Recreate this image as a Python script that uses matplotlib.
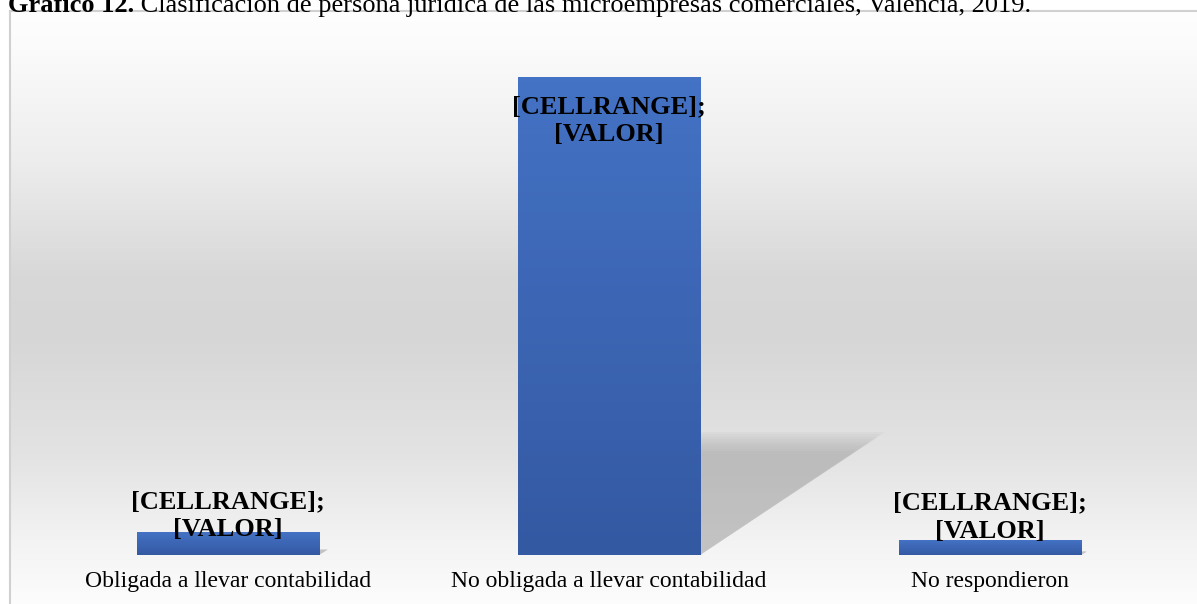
import numpy as np
import matplotlib
matplotlib.use("Agg")
import matplotlib.pyplot as plt
from matplotlib.patches import Polygon
from matplotlib.colors import LinearSegmentedColormap

# ---- data ----
categories = ["Obligada a llevar contabilidad",
              "No obligada a llevar contabilidad",
              "No respondieron"]
values = [4.4, 92.7, 2.9]
data_labels = ["[CELLRANGE];\n[VALOR]"] * 3
title_bold = "Gráfico 12."
title_rest = " Clasificación de persona jurídica de las microempresas comerciales, Valencia, 2019."

W, H, DPI = 1197, 604, 100
fig = plt.figure(figsize=(W / DPI, H / DPI), dpi=DPI)
fig.patch.set_facecolor("white")

serif = ["Liberation Serif", "DejaVu Serif"]

# ---- background gradient (chart area) ----
bg = fig.add_axes([0, 0, 1, 1], zorder=0)
bg.set_xlim(0, W); bg.set_ylim(H, 0); bg.axis("off")
ys = np.linspace(0, 1, 300)
prof_y = [0.0, 0.06, 0.25, 0.45, 0.55, 0.75, 0.9, 1.0]
prof_c = [0.995, 0.985, 0.93, 0.845, 0.84, 0.89, 0.955, 0.99]
grad = np.interp(ys, prof_y, prof_c)
img = np.repeat(grad[:, None], 2, axis=1)
img = np.dstack([img, img, img])
bg.imshow(img, extent=[10, W, H, 11], aspect="auto", interpolation="bilinear", zorder=0)
bg.plot([9.5, 9.5], [10.5, H], color="#d0d0d0", lw=1.5, zorder=1)
bg.plot([9.5, W], [10.5, 10.5], color="#d0d0d0", lw=1.5, zorder=1)

# ---- title (partly cut at top, as in the source) ----
t1 = bg.text(8, 12, title_bold, fontsize=19, fontweight="bold", family=serif,
             va="baseline", ha="left", color="black", zorder=3)
fig.canvas.draw()
r = fig.canvas.get_renderer()
bb = t1.get_window_extent(r)
bg.text(bb.x1, 12, title_rest, fontsize=19, family=serif,
        va="baseline", ha="left", color="black", zorder=3)

# ---- main axes ----
ax_left, ax_right = 37.5, 1180.5
ax_bottom_px, ax_top_px = 555, 60
ax = fig.add_axes([ax_left / W, 1 - ax_bottom_px / H,
                   (ax_right - ax_left) / W, (ax_bottom_px - ax_top_px) / H], zorder=2)
ax.patch.set_alpha(0)
ymax = 96.0
ax.set_xlim(-0.5, 2.5)
ax.set_ylim(0, ymax)
for s in ax.spines.values():
    s.set_visible(False)
ax.tick_params(left=False, labelleft=False, bottom=False, labelbottom=False)

x = np.arange(len(categories))
bw = 0.48
bars = ax.bar(x, values, width=bw, color="#3c66b6", zorder=3)

# gradient fill for bars
bar_cmap = LinearSegmentedColormap.from_list("barg", ["#3459a3", "#4472c4"])
for b in bars:
    x0, y0, w, h = b.get_x(), b.get_y(), b.get_width(), b.get_height()
    gimg = ax.imshow(np.linspace(0, 1, 100)[:, None], cmap=bar_cmap, origin="lower",
                     extent=[x0, x0 + w, y0, y0 + h], aspect="auto", zorder=3.5)
    gimg.set_clip_path(b)

# perspective shadows (soft, layered triangles)
for b in bars:
    x0, w, h = b.get_x(), b.get_width(), b.get_height()
    xr = x0 + w
    sh_h = h * 0.235
    sh_w = (w * 0.92) * (h / max(values))
    n = 10
    for i in range(n):
        k = 0.9 + i * 0.022
        poly = Polygon([(xr, 0), (xr, sh_h * k), (xr + sh_w * k, sh_h * k)],
                       closed=True, facecolor="#a8a8a8", edgecolor="none",
                       alpha=0.09, zorder=2.5)
        ax.add_patch(poly)

# data labels
offsets = [-9, -18, -3]
vas = ["bottom", "top", "bottom"]
for b, lab, off, va in zip(bars, data_labels, offsets, vas):
    cx = b.get_x() + b.get_width() / 2
    ax.annotate(lab, xy=(cx, b.get_height()), xytext=(0, off * 72 / DPI),
                textcoords="offset points", ha="center", va=va,
                fontsize=19, fontweight="bold", family=serif,
                linespacing=1.3, color="black", zorder=5)

# category labels
for xi, cat in zip(x, categories):
    ax.annotate(cat, xy=(xi, 0), xytext=(0, -27 * 72 / DPI), textcoords="offset points",
                ha="center", va="center", fontsize=17, family=serif, color="black")

fig.savefig("out.png", dpi=DPI)
